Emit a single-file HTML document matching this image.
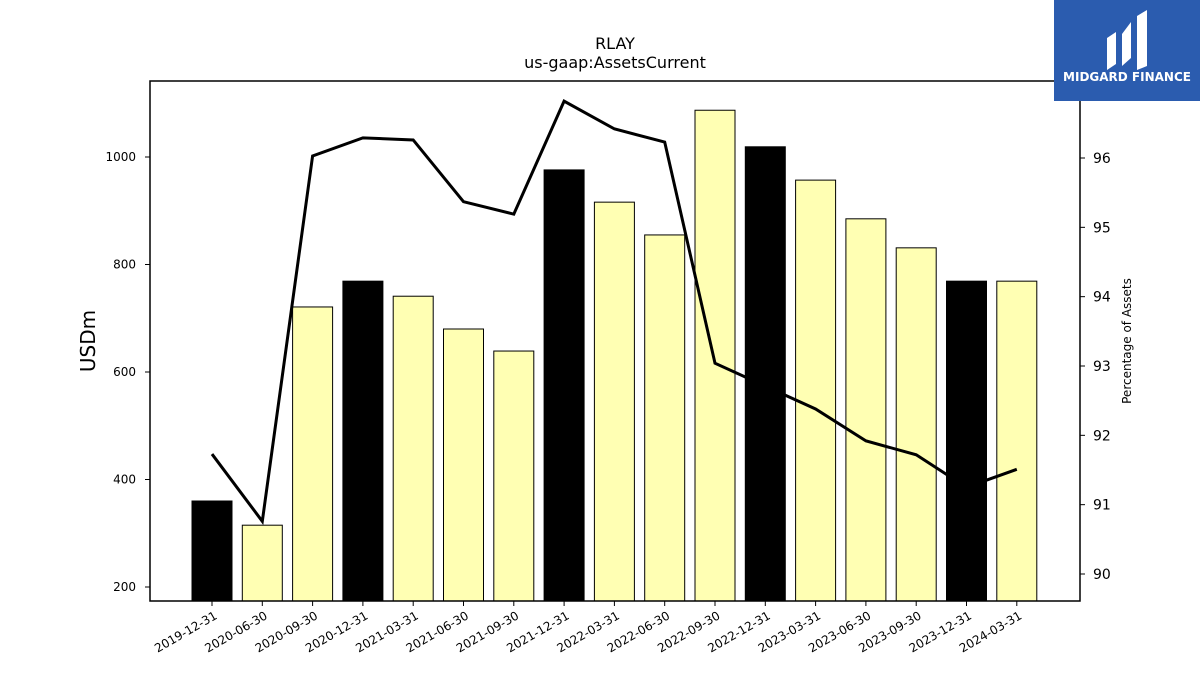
<!DOCTYPE html>
<html><head><meta charset="utf-8"><style>
body{margin:0;background:#fff;width:1200px;height:675px;overflow:hidden;font-family:"Liberation Sans","DejaVu Sans",sans-serif}
svg text{font-family:"DejaVu Sans","Liberation Sans",sans-serif}
</style></head><body>
<svg id="chart" width="1200" height="675">
<text x="615" y="49" font-size="16" text-anchor="middle">RLAY</text>
<text x="615" y="68" font-size="16" text-anchor="middle">us-gaap:AssetsCurrent</text>
<g id="bars"></g><g id="line"></g><g id="axes"></g>
<rect x="150" y="81" width="930" height="520" fill="none" stroke="#000" stroke-width="1.5"/>
<text transform="translate(95,341) rotate(-90)" font-size="20" text-anchor="middle">USDm</text>
<text transform="translate(1131,341) rotate(-90)" font-size="12" text-anchor="middle">Percentage of Assets</text>
<g>
<rect x="1054" y="0" width="146" height="101" fill="#2b5caf"/>
<path d="M1107 70 L1107 38 L1116 32 L1116 64 Z M1122 66 L1122 34 L1131 22 L1131 58 Z M1137 70 L1137 16 L1147 10 L1147 66 Z" fill="#fff"/>
<text x="1127" y="81" font-size="12" font-weight="bold" fill="#fff" text-anchor="middle">MIDGARD FINANCE</text>
</g>
</svg>
<script>
const categories=["2019-12-31","2020-06-30","2020-09-30","2020-12-31","2021-03-31","2021-06-30","2021-09-30","2021-12-31","2022-03-31","2022-06-30","2022-09-30","2022-12-31","2023-03-31","2023-06-30","2023-09-30","2023-12-31","2024-03-31"];
const assetsCurrent=[360,315,721,769,741,680,639,976,916,855,1087,1019,957,885,831,769,769];
const pctAssets=[91.73,90.76,96.03,96.29,96.26,95.37,95.19,96.82,96.42,96.23,93.04,92.71,92.38,91.92,91.72,91.25,91.51];
const leftTicks=[200,400,600,800,1000];
const rightTicks=[90,91,92,93,94,95,96];
const NS="http://www.w3.org/2000/svg";
const yL=v=>587-(v-200)*0.5375;
const yR=v=>158+(96-v)*69.333;
const xC=i=>212+i*50.3;
function mk(t,a,p){const e=document.createElementNS(NS,t);for(const k in a)e.setAttribute(k,a[k]);p.appendChild(e);return e;}
const bars=document.getElementById('bars'),line=document.getElementById('line'),axes=document.getElementById('axes');
categories.forEach((c,i)=>{
 const black=c.endsWith('12-31');
 const r=mk('rect',{x:xC(i)-20,y:yL(assetsCurrent[i]),width:40,height:601-yL(assetsCurrent[i]),fill:black?'#000':'#ffffb3',stroke:'#000','stroke-width':1},bars);
 
 
 mk('line',{x1:xC(i),x2:xC(i),y1:601,y2:606,stroke:'#000'},axes);
 const t=mk('text',{x:0,y:0,'font-size':12,'text-anchor':'end',transform:`translate(${xC(i)+6},${618}) rotate(-30)`},axes);
 t.textContent=c;
 
 
});
const p=mk('polyline',{points:pctAssets.map((v,i)=>xC(i)+','+yR(v)).join(' '),fill:'none',stroke:'#000','stroke-width':3},line);


leftTicks.forEach(v=>{
 mk('line',{x1:145,x2:150,y1:yL(v),y2:yL(v),stroke:'#000'},axes);
 const t=mk('text',{x:136,y:yL(v)+4,'font-size':12,'text-anchor':'end'},axes);t.textContent=v;
 
 
});
rightTicks.forEach(v=>{
 mk('line',{x1:1080,x2:1085,y1:yR(v),y2:yR(v),stroke:'#000'},axes);
 const t=mk('text',{x:1093,y:yR(v)+5,'font-size':14},axes);t.textContent=v;
 
 
});
</script>
</body></html>
